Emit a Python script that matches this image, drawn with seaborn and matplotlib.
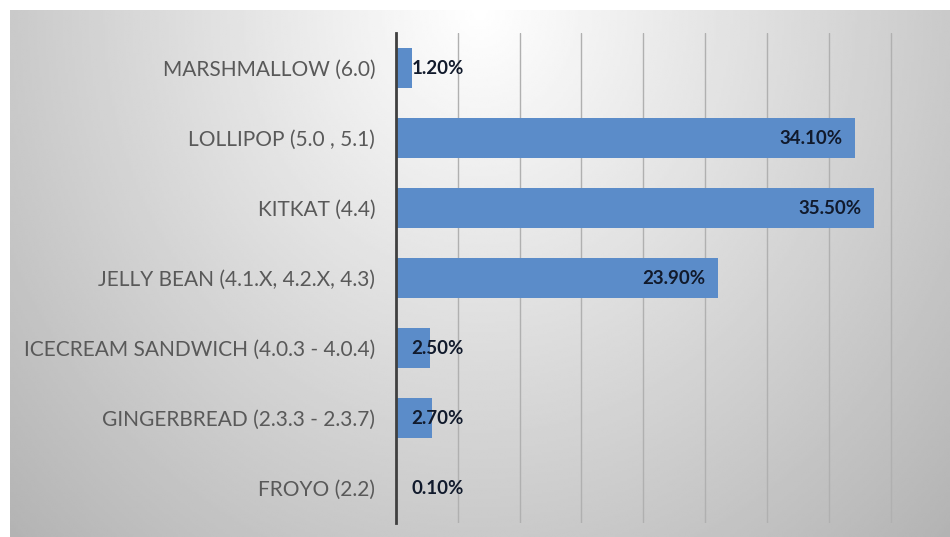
import numpy as np
import pandas as pd
import matplotlib
matplotlib.use("Agg")
import matplotlib.pyplot as plt
import matplotlib.ticker as ticker
import seaborn as sns

versions = ["MARSHMALLOW (6.0)", "LOLLIPOP (5.0 , 5.1)", "KITKAT (4.4)",
            "JELLY BEAN (4.1.X, 4.2.X, 4.3)", "ICECREAM SANDWICH (4.0.3 - 4.0.4)",
            "GINGERBREAD (2.3.3 - 2.3.7)", "FROYO (2.2)"]
share = [1.2, 34.1, 35.5, 23.9, 2.5, 2.7, 0.1]

df = pd.DataFrame({"version": versions, "share": share})

sns.set_theme(style="white")
plt.rcParams["font.family"] = ["Lato", "DejaVu Sans"]

W, H = 950, 537
fig = plt.figure(figsize=(W / 100, H / 100), dpi=100)
fig.patch.set_facecolor("white")

# radial grey background, white near the top centre
bg = fig.add_axes([10 / W, 0, (W - 10) / W, (H - 10) / H], zorder=0)
gx, gy = np.meshgrid(np.linspace(0, 1, 400), np.linspace(0, 1, 240))
d = np.sqrt(((gx - 0.5) / 0.5) ** 2 + (gy / 1.0) ** 2)
grad = np.clip(1 - 0.21 * d, 0, 1)
bg.imshow(grad, cmap="gray", vmin=0, vmax=1, aspect="auto", interpolation="bilinear")
bg.axis("off")

ax = fig.add_axes([396 / W, 14 / H, (W - 396) / W, 490 / H], zorder=1)
ax.set_facecolor("none")

sns.barplot(data=df, x="share", y="version", orient="h", color="#5b8cc9",
            width=0.57, saturation=1, linewidth=0, ax=ax, zorder=3)

ax.set_xlim(0, (W - 396) / 13.47)
ax.xaxis.set_major_locator(ticker.MultipleLocator(4.59))
ax.grid(axis="x", color="#b0b0b0", linewidth=1)
ax.set_axisbelow(True)
ax.set_xticklabels([])
ax.set_xlabel("")
ax.set_ylabel("")
ax.tick_params(axis="both", length=0)
ax.tick_params(axis="y", pad=15, labelsize=15, labelcolor="#595959")
for s in ["top", "right", "bottom"]:
    ax.spines[s].set_visible(False)
ax.spines["left"].set_color("#404040")
ax.spines["left"].set_linewidth(2)
ax.spines["left"].set_zorder(5)

for p, v in zip(ax.patches, share):
    yc = p.get_y() + p.get_height() / 2
    if v > 10:
        ax.annotate(f"{v:.2f}%", (p.get_width(), yc), xytext=(-9, 0),
                    textcoords="offset points", ha="right", va="center",
                    fontsize=13.5, fontweight="bold", color="#111a2c", zorder=6)
    else:
        ax.annotate(f"{v:.2f}%", (0, yc), xytext=(11, 0),
                    textcoords="offset points", ha="left", va="center",
                    fontsize=13.5, fontweight="bold", color="#111a2c", zorder=6)

fig.savefig("out.png", dpi=100)
